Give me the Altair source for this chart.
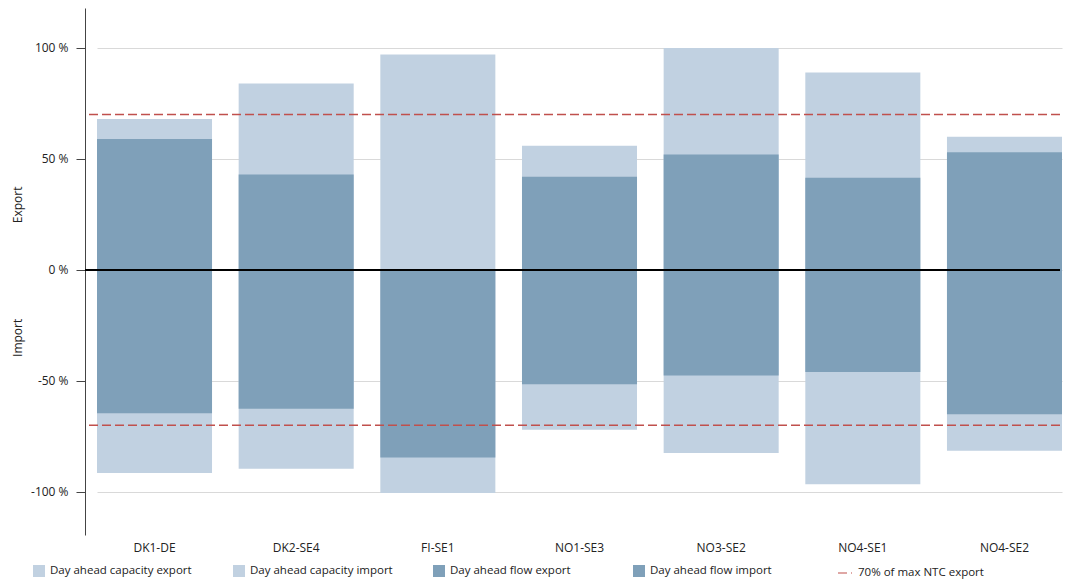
import altair as alt
import pandas as pd

categories = ["DK1-DE", "DK2-SE4", "FI-SE1", "NO1-SE3", "NO3-SE2", "NO4-SE1", "NO4-SE2"]
cap_export = [68, 84, 97, 56, 100, 89, 60]
flow_export = [59, 43, 0, 42, 52, 41.5, 53]
flow_import = [-64.5, -62.5, -84.5, -51.5, -47.5, -46, -65]
cap_import = [-91.5, -89.5, -100.5, -72, -82.5, -96.5, -81.5]
ntc_levels = [70, -70]

bar_labels = [
    "Day ahead capacity export",
    "Day ahead capacity import",
    "Day ahead flow export",
    "Day ahead flow import",
]
bar_colors = ["#c1d1e1", "#c1d1e1", "#7fa0b9", "#7fa0b9"]
line_label = "70% of max NTC export"
line_color = "#c0504d"

rows = []
for i, c in enumerate(categories):
    rows.append({"cat": c, "series": bar_labels[0], "kind": "cap", "value": cap_export[i]})
    rows.append({"cat": c, "series": bar_labels[1], "kind": "cap", "value": cap_import[i]})
for i, c in enumerate(categories):
    rows.append({"cat": c, "series": bar_labels[2], "kind": "flow", "value": flow_export[i]})
    rows.append({"cat": c, "series": bar_labels[3], "kind": "flow", "value": flow_import[i]})
df = pd.DataFrame(rows)
ntc_df = pd.DataFrame({"level": ntc_levels, "series": [line_label] * len(ntc_levels)})
one_row = pd.DataFrame({"k": [0]})

FONT = "Open Sans"
TXT = "#222222"

color_scale = alt.Scale(domain=bar_labels, range=bar_colors)
bar_legend = alt.Legend(
    orient="none", legendX=-52, legendY=557, direction="horizontal", title=None,
    labelFontSize=11.5, labelColor=TXT, labelFont=FONT, symbolSize=144,
    symbolType="square", symbolStrokeWidth=0, symbolOpacity=1,
    labelOffset=5, columnPadding=40, gridAlign="all", labelLimit=300,
)
line_legend = alt.Legend(
    orient="none", legendX=752, legendY=557, direction="horizontal", title=None,
    labelFontSize=11.5, labelColor=TXT, labelFont=FONT, symbolSize=196,
    symbolType="stroke", symbolStrokeColor=line_color, symbolStrokeWidth=1.2,
    symbolDash=[6, 2], labelOffset=5,
)

x_enc = alt.X("cat:N", sort=categories, title=None,
              scale=alt.Scale(range=[12, 977], paddingInner=0.188, paddingOuter=0),
              axis=alt.Axis(domain=False, ticks=False, grid=False, labelPadding=7,
                            labelFontSize=12, labelColor=TXT, labelFont=FONT, labelAngle=0))
y_scale = alt.Scale(domain=[-119.4, 118.0], nice=False, zero=False)
y_enc = alt.Y("value:Q", scale=y_scale, stack=None, title=None,
              axis=alt.Axis(values=[-100, -50, 0, 50, 100], labelExpr="datum.value + ' %'",
                            grid=True, gridColor="#d9d9d9", gridWidth=1,
                            domainColor="#444444", tickColor="#444444", tickSize=9,
                            labelPadding=8, labelFontSize=12, labelColor=TXT, labelFont=FONT))

base = alt.Chart(df)
cap = base.transform_filter("datum.kind === 'cap'").mark_bar(opacity=1).encode(
    x=x_enc, y=y_enc,
    color=alt.Color("series:N", scale=color_scale, legend=bar_legend),
)
flow = base.transform_filter("datum.kind === 'flow'").mark_bar(opacity=1).encode(
    x=alt.X("cat:N", sort=categories),
    y=alt.Y("value:Q", stack=None),
    color=alt.Color("series:N", scale=color_scale, legend=bar_legend),
)
zero = alt.Chart(one_row).mark_rule(color="#000000", strokeWidth=2).encode(y=alt.datum(0))
ntc = alt.Chart(ntc_df).mark_rule(color=line_color, strokeWidth=1.5).encode(
    y=alt.Y("level:Q"),
    strokeDash=alt.StrokeDash("series:N", scale=alt.Scale(domain=[line_label], range=[[9, 4]]),
                              legend=line_legend),
)
t_export = alt.Chart(one_row).mark_text(angle=270, fontSize=12, font=FONT, color=TXT).encode(
    x=alt.value(-67), y=alt.datum(29.3), text=alt.datum("Export"))
t_import = alt.Chart(one_row).mark_text(angle=270, fontSize=12, font=FONT, color=TXT).encode(
    x=alt.value(-67), y=alt.datum(-30.6), text=alt.datum("Import"))

chart = alt.layer(cap, flow, zero, ntc, t_export, t_import).properties(
    width=975, height=527,
    autosize=alt.AutoSizeParams(type="none"),
    padding={"left": 77, "top": 0, "right": 3, "bottom": 45},
).configure_view(stroke=None)

chart.save("out.html", embed_options={"renderer": "svg", "actions": False})
